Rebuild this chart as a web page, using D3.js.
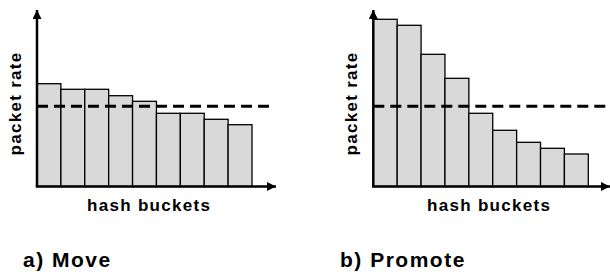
<!DOCTYPE html>
<html>
<head>
<meta charset="utf-8">
<script src="https://cdn.jsdelivr.net/npm/d3@7"></script>
<style>
  body { margin: 0; background: #fff; }
  svg { display: block; }
  text { font-family: "Liberation Sans", Arial, sans-serif; font-weight: bold; fill: #000; }
</style>
</head>
<body>
<div id="chart"></div>
<script>
// bucket indices (x), shared by both panels
var buckets = [1, 2, 3, 4, 5, 6, 7, 8, 9];
// packet rate per bucket (arbitrary units)
var moveRates = [102.8, 97.2, 97.2, 90.8, 85.2, 73.2, 73.2, 67.2, 61.8];
var promoteRates = [167.2, 161.2, 132.2, 108.2, 73.2, 56.2, 44.2, 38.2, 32.5];
var threshold = 80.2;
var yMax = 177;

var panelTitles = ["a) Move", "b) Promote"];
var yLabel = "packet rate";
var xLabel = "hash buckets";

var width = 610, height = 272;

var svg = d3.select("#chart").append("svg")
    .attr("width", width)
    .attr("height", height);

var defs = svg.append("defs");
defs.append("marker")
    .attr("id", "arrow")
    .attr("viewBox", "0 0 10 10")
    .attr("refX", 10)
    .attr("refY", 5)
    .attr("markerUnits", "userSpaceOnUse")
    .attr("markerWidth", 11)
    .attr("markerHeight", 9)
    .attr("orient", "auto")
  .append("path")
    .attr("d", "M0,0 L10,5 L0,10 Z")
    .attr("fill", "#000");

var panels = [
    { rates: moveRates, x0: 37, xEnd: 276, dashEnd: 270, title: panelTitles[0], titleX: 23, labelX: 87 },
    { rates: promoteRates, x0: 373.3, xEnd: 610, dashEnd: 610, title: panelTitles[1], titleX: 340, labelX: 427 }
];

var y = d3.scaleLinear()
    .domain([0, yMax])
    .range([186.5, 9.5]);

panels.forEach(function(p) {
    var g = svg.append("g");

    var x = d3.scaleBand()
        .domain(buckets)
        .range([p.x0, p.x0 + 215])
        .paddingInner(0)
        .paddingOuter(0);

    // bars
    g.selectAll(".bar")
        .data(p.rates)
        .enter().append("rect")
        .attr("class", "bar")
        .attr("x", function(d, i) { return x(buckets[i]); })
        .attr("y", function(d) { return y(d); })
        .attr("width", x.bandwidth())
        .attr("height", function(d) { return y(0) - y(d); })
        .attr("fill", "#d9d9d9")
        .attr("stroke", "#000")
        .attr("stroke-width", 1.3);

    // average line
    g.append("line")
        .attr("x1", p.x0)
        .attr("x2", p.dashEnd)
        .attr("y1", y(threshold))
        .attr("y2", y(threshold))
        .attr("stroke", "#000")
        .attr("stroke-width", 3)
        .attr("stroke-dasharray", "11,6");

    // axes with arrows
    g.append("line")
        .attr("x1", p.x0).attr("y1", y(0))
        .attr("x2", p.x0).attr("y2", y(yMax) + 0.5)
        .attr("stroke", "#000")
        .attr("stroke-width", 2.5)
        .attr("marker-end", "url(#arrow)");

    g.append("line")
        .attr("x1", p.x0 - 1.2).attr("y1", y(0))
        .attr("x2", p.xEnd).attr("y2", y(0))
        .attr("stroke", "#000")
        .attr("stroke-width", 2.5)
        .attr("marker-end", "url(#arrow)");

    // labels
    g.append("text")
        .attr("transform", "translate(" + (p.x0 - 16.3) + ",103.5) rotate(-90)")
        .attr("text-anchor", "middle")
        .style("font-size", "17px")
        .style("letter-spacing", "1.3px")
        .text(yLabel);

    g.append("text")
        .attr("x", p.labelX)
        .attr("y", 210.5)
        .style("font-size", "17px")
        .style("letter-spacing", "1.3px")
        .text(xLabel);

    g.append("text")
        .attr("x", p.titleX)
        .attr("y", 267)
        .style("font-size", "21px")
        .style("letter-spacing", "1.5px")
        .text(p.title);
});
</script>
</body>
</html>
